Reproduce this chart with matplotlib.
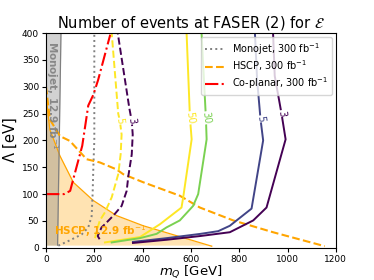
import matplotlib
matplotlib.use("Agg")
import matplotlib.pyplot as plt

# ---------------- data ----------------
# Monojet 12.9 fb^-1 excluded region boundary
mono129_x = [62, 48]
mono129_y = [400, 5]
# HSCP 12.9 fb^-1 excluded region boundary
hscp129_x = [0, 16, 58, 113, 196, 292, 403, 582, 686]
hscp129_y = [282, 220, 171, 122, 88, 60, 41, 17, 3]
# Monojet 300 fb^-1 (dotted)
mono300_x = [51, 99, 148, 175, 189, 193, 196, 200, 200]
mono300_y = [4, 14, 25, 38, 59, 100, 150, 200, 400]
# HSCP 300 fb^-1 (dashed)
hscp300_x = [0, 16, 58, 99, 168, 223, 292, 320, 403, 554, 637, 775, 940, 1154]
hscp300_y = [300, 239, 208, 199, 165, 159, 146, 137, 122, 97, 75, 51, 29, 3]
# Co-planar 300 fb^-1 (dash-dot)
copl_x = [0, 75, 100, 113, 150, 175, 196, 216, 266]
copl_y = [100, 100, 106, 128, 190, 265, 285, 313, 397]

# event-number contours, FASER (dashed)
ev5_dash_x = [203, 210, 223, 244, 272, 299, 309, 313, 306, 299, 272]
ev5_dash_y = [18, 32, 51, 66, 94, 137, 174, 211, 236, 250, 400]
ev3_dash_x = [222, 214, 230, 244, 279, 313, 334, 341, 355, 359, 355, 345, 297]
ev3_dash_y = [16, 22, 38, 44, 60, 78, 106, 134, 174, 211, 236, 260, 400]
# event-number contours, FASER 2 (solid)
ev50_x = [244, 389, 472, 561, 568, 603, 596, 582]
ev50_y = [10, 20, 44, 75, 94, 202, 242, 400]
ev30_x = [272, 389, 458, 499, 554, 609, 630, 665, 662, 644]
ev30_y = [10, 18, 26, 38, 51, 78, 100, 202, 242, 400]
ev5_x = [360, 500, 640, 713, 761, 851, 899, 888, 874, 865]
ev5_y = [11, 18, 26, 31, 41, 73, 200, 240, 313, 400]
ev3_x = [360, 500, 640, 761, 858, 913, 992, 975, 947, 940]
ev3_y = [9, 15, 22, 29, 51, 75, 202, 250, 320, 400]

contour_labels = ["5", "3", "50", "30", "5", "3"]

# ---------------- figure ----------------
fig = plt.figure(figsize=(3.74, 2.80), dpi=100)
ax = fig.add_axes([0.123, 0.115, 0.775, 0.767])

# shaded excluded regions
ax.fill_between(hscp129_x, hscp129_y, 5, color="orange", alpha=0.3, lw=0)
ax.plot(hscp129_x, hscp129_y, color="orange", lw=0.9)
ax.fill_betweenx(mono129_y, 0, mono129_x, color="gray", alpha=0.35, lw=0)
ax.plot(mono129_x, mono129_y, color="gray", lw=0.9)

# projections
ax.plot(mono300_x, mono300_y, color="gray", ls=":", lw=1.4, label=r"Monojet, 300 fb$^{-1}$")
ax.plot(hscp300_x, hscp300_y, color="orange", ls="--", lw=1.5, label=r"HSCP, 300 fb$^{-1}$")
ax.plot(copl_x, copl_y, color="red", ls="-.", lw=1.5, label=r"Co-planar, 300 fb$^{-1}$")

# contours
yel = "#fde725"
pur = "#440154"
blu = "#414487"
grn = "#7ad151"
curves = [
    (ev5_dash_x, ev5_dash_y, yel, "--"),
    (ev3_dash_x, ev3_dash_y, pur, "--"),
    (ev50_x, ev50_y, yel, "-"),
    (ev30_x, ev30_y, grn, "-"),
    (ev5_x, ev5_y, blu, "-"),
    (ev3_x, ev3_y, pur, "-"),
]
label_idx = [8, 10, 6, 8, 7, 7]
for (cx, cy, col, ls), lab, li in zip(curves, contour_labels, label_idx):
    ax.plot(cx, cy, color=col, ls=ls, lw=1.4)
    ax.text(cx[li], cy[li], lab, color=col, fontsize=7, rotation=-82,
            ha="center", va="center",
            bbox=dict(facecolor="white", edgecolor="none", pad=0.3))

# region annotations
ax.text(25, 385, r"Monojet, 12.9 fb$^{-1}$", color="gray", fontsize=7.5,
        fontweight="bold", rotation=-90, ha="center", va="top", alpha=0.9)
ax.text(35, 32, r"HSCP, 12.9 fb$^{-1}$", color="orange", fontsize=7.5,
        fontweight="bold", ha="left", va="center")

ax.set_xlim(0, 1200)
ax.set_ylim(0, 400)
ax.set_xticks([0, 200, 400, 600, 800, 1000, 1200])
ax.set_yticks([0, 50, 100, 150, 200, 250, 300, 350, 400])
ax.tick_params(labelsize=6.5, length=3, pad=2)
ax.set_xlabel(r"$m_Q$ [GeV]", fontsize=9.5, labelpad=-0.5)
ax.set_ylabel(r"$\Lambda$ [eV]", fontsize=10.5, labelpad=2)
ax.set_title(r"Number of events at FASER (2) for $\mathcal{E}$", fontsize=10.5, pad=4)

ax.legend(loc="upper right", fontsize=7, handlelength=2.0, borderaxespad=0.4,
          labelspacing=0.2)

fig.savefig("out.png", dpi=100)
